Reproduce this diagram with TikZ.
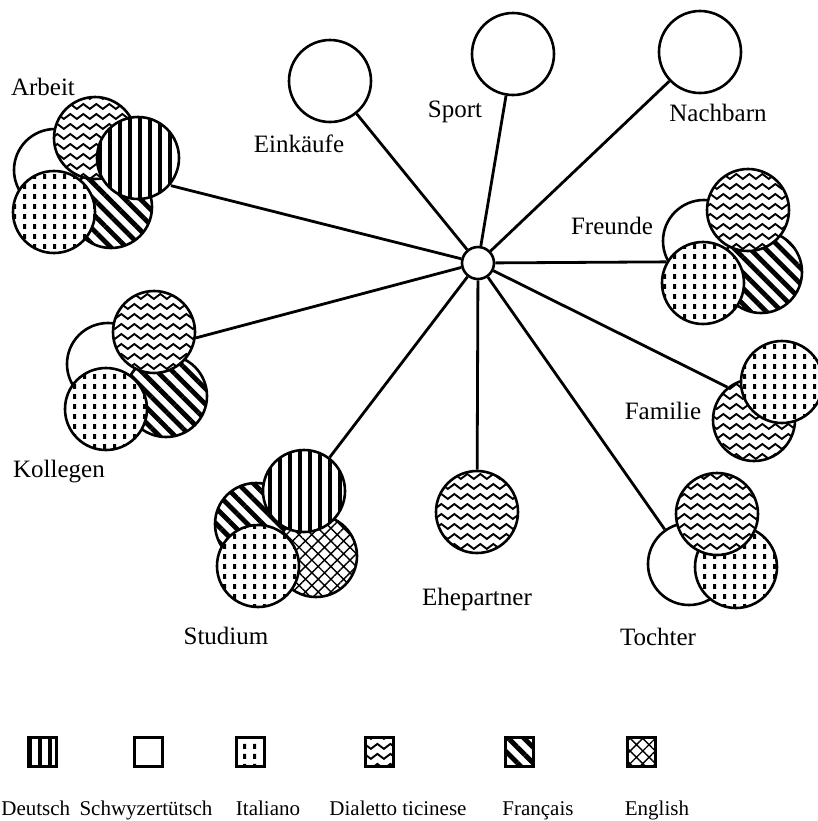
\documentclass[tikz,border=0pt]{standalone}
\usepackage{fontspec}
\setmainfont{Liberation Serif}
\usetikzlibrary{patterns,patterns.meta}

\tikzdeclarepattern{
  name=italdots,
  type=uncolored,
  bottom left={(0pt,0pt)},
  top right={(5pt,5pt)},
  tile size={(5pt,5pt)},
  code={\fill (1.7pt,1.2pt) rectangle (3.3pt,3.8pt);}
}
\tikzdeclarepattern{
  name=ticwave,
  type=uncolored,
  bottom left={(0pt,0pt)},
  top right={(6.4pt,5pt)},
  tile size={(6.4pt,5pt)},
  code={\draw [line width=1pt] (-1pt,0.4pt) -- (0pt,1.2pt) -- (3.2pt,3.8pt) -- (6.4pt,1.2pt) -- (7.4pt,0.4pt);}
}

\tikzset{
  lang/.style={circle, draw, line width=1.3pt, minimum size=41pt, inner sep=0pt, preaction={fill=white}},
  deutsch/.style={lang, pattern={Lines[angle=90,distance=5pt,line width=2pt]}},
  schwyz/.style={lang},
  italiano/.style={lang, pattern=italdots},
  ticinese/.style={lang, pattern=ticwave},
  francais/.style={lang, pattern={Lines[angle=-45,distance=5.5pt,line width=2.4pt]}},
  english/.style={lang, pattern={Hatch[angle=45,distance=4.5pt,line width=0.7pt]}},
  legbox/.style={rectangle, minimum width=14pt, minimum height=14.5pt, line width=1.5pt},
  word/.style={font=\fontsize{12.5}{15}\selectfont, inner sep=0pt, anchor=mid},
  legword/.style={font=\fontsize{10.5}{13}\selectfont, inner sep=0pt, anchor=mid},
  link/.style={line width=1.4pt}
}

\begin{document}
\begin{tikzpicture}[x=0.5pt, y=-0.5pt]
\useasboundingbox (0,0) rectangle (818,821);
\node [circle, draw, line width=1.3pt, minimum size=16pt, inner sep=0pt, fill=white] (hub) at (478,263) {};
% oben
\node [schwyz] (einSch) at (330,81) {};
\node [word] (lEin) at (299,148) {Einkäufe};
\node [schwyz] (spoSch) at (513,54) {};
\node [word] (lSpo) at (455,113) {Sport};
\node [schwyz] (nacSch) at (700,52) {};
\node [word] (lNac) at (718,117) {Nachbarn};
% Arbeit
\node [schwyz] (arbSch) at (55,170) {};
\node [francais] (arbFr) at (111,207) {};
\node [ticinese] (arbTi) at (95,138) {};
\node [deutsch] (arbDe) at (138,158) {};
\node [italiano] (arbIt) at (54,212) {};
\node [word] (lArb) at (43,91) {Arbeit};
% Freunde
\node [schwyz] (freSch) at (704,241) {};
\node [francais] (freFr) at (761,272) {};
\node [ticinese] (freTi) at (748,210) {};
\node [italiano] (freIt) at (703,283) {};
\node [word] (lFre) at (612,230) {Freunde};
% Familie
\node [ticinese] (famTi) at (754,420) {};
\node [italiano] (famIt) at (782,382) {};
\node [word] (lFam) at (663,415) {Familie};
% Kollegen
\node [schwyz] (kolSch) at (108,364) {};
\node [francais] (kolFr) at (166,396) {};
\node [ticinese] (kolTi) at (154,332) {};
\node [italiano] (kolIt) at (106,409) {};
\node [word] (lKol) at (59,473) {Kollegen};
% Studium
\node [francais] (stuFr) at (256,524) {};
\node [english] (stuEn) at (316,556) {};
\node [deutsch] (stuDe) at (304,491) {};
\node [italiano] (stuIt) at (258,566) {};
\node [word] (lStu) at (226,640) {Studium};
% Ehepartner
\node [ticinese] (eheTi) at (477,512) {};
\node [word] (lEhe) at (477,601) {Ehepartner};
% Tochter
\node [schwyz] (tocSch) at (689,564) {};
\node [italiano] (tocIt) at (736,567) {};
\node [ticinese] (tocTi) at (717,514) {};
\node [word] (lToc) at (658,641) {Tochter};
% Verbindungen
\draw [link] (hub) -- (einSch);
\draw [link] (hub) -- (spoSch);
\draw [link] (hub) -- (nacSch);
\draw [link] (hub) -- (arbDe.-40);
\draw [link] (hub) -- (freIt.150);
\draw [link] (hub) -- (famTi.129);
\draw [link] (hub) -- (kolTi.-8);
\draw [link] (hub) -- (stuDe);
\draw [link] (hub) -- (eheTi);
\draw [link] (hub) -- (tocSch);
% Legende
\node [deutsch, legbox] (legDe) at (42,752) {};
\node [schwyz, legbox] (legSch) at (148,752) {};
\node [italiano, legbox] (legIt) at (250,752) {};
\node [ticinese, legbox] (legTi) at (379,752) {};
\node [francais, legbox] (legFr) at (519,752) {};
\node [english, legbox] (legEn) at (641,752) {};
\node [legword, anchor=mid west] (tDe) at (1,811) {Deutsch};
\node [legword] (tSch) at (146,811) {Schwyzertütsch};
\node [legword] (tIt) at (268,811) {Italiano};
\node [legword] (tTi) at (398,811) {Dialetto ticinese};
\node [legword] (tFr) at (538,811) {Français};
\node [legword] (tEn) at (657,811) {English};
\end{tikzpicture}
\end{document}
